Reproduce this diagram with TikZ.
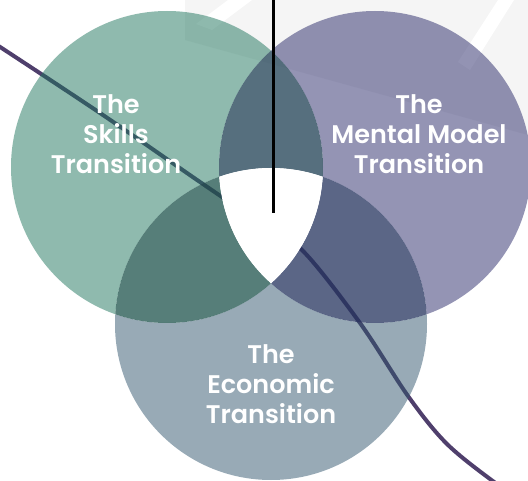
\documentclass[tikz,border=0pt]{standalone}
\usepackage{fontspec}
\setmainfont{Poppins}
\newfontfamily\popsb{Poppins SemiBold}
\definecolor{bggray}{RGB}{245,245,245}
\definecolor{fA}{RGB}{31,117,93}
\definecolor{fB}{RGB}{41,41,105}
\definecolor{fC}{RGB}{49,85,109}
\definecolor{fAB}{RGB}{30,63,83}
\definecolor{fAC}{RGB}{30,83,76}
\definecolor{fBC}{RGB}{36,51,94}
\definecolor{curvecol}{RGB}{79,63,108}
\tikzset{
  single/.style={fill=#1, opacity=0.5},
  double/.style={fill=#1, opacity=0.75},
  lbl/.style={text=white, font=\popsb\fontsize{25.5}{30}\selectfont, align=center, inner sep=0pt},
}
\newcommand\bigrect{(-20,-20) rectangle (560,520)}
\begin{document}
\begin{tikzpicture}[x=1pt,y=-1pt]
\useasboundingbox (0,0) rectangle (528,481);
% background decoration
\fill[bggray] (185,0) -- (528,0) -- (528,135) -- (185,40) -- cycle;
\fill[white] (228,0) -- (252,0) -- (212,30) -- (196,24) -- cycle;
\fill[white] (498,0) -- (514,0) -- (470,70) -- (458,62) -- cycle;
% centres
\coordinate (cA) at (167,167);
\coordinate (cB) at (375,167);
\coordinate (cC) at (271,324);
% curve under the circles
\coordinate (k0) at (-6,43);
\coordinate (k1) at (100,113);
\coordinate (k2) at (200,182);
\coordinate (k3) at (262,224);
\coordinate (k4) at (303,251);
\coordinate (k5) at (360,323);
\coordinate (k6) at (408,396);
\coordinate (k7) at (446,443);
\coordinate (k8) at (490,479);
\coordinate (k9) at (512,493);
\draw[curvecol, line width=4pt] plot[smooth, tension=0.55] coordinates {(k0) (k1) (k2) (k3) (k4) (k5) (k6) (k7) (k8) (k9)};
% A only
\begin{scope}[even odd rule]
  \clip \bigrect (cB) circle (156pt);
  \clip \bigrect (cC) circle (156pt);
  \fill[single=fA] (cA) circle (156pt);
\end{scope}
% B only
\begin{scope}[even odd rule]
  \clip \bigrect (cA) circle (156pt);
  \clip \bigrect (cC) circle (156pt);
  \fill[single=fB] (cB) circle (156pt);
\end{scope}
% C only
\begin{scope}[even odd rule]
  \clip \bigrect (cA) circle (156pt);
  \clip \bigrect (cB) circle (156pt);
  \fill[single=fC] (cC) circle (156pt);
\end{scope}
% A and B
\begin{scope}
  \clip (cA) circle (156pt);
  \clip (cB) circle (156pt);
  \begin{scope}[even odd rule]
    \clip \bigrect (cC) circle (156pt);
    \fill[double=fAB] \bigrect;
  \end{scope}
\end{scope}
% A and C
\begin{scope}
  \clip (cA) circle (156pt);
  \clip (cC) circle (156pt);
  \begin{scope}[even odd rule]
    \clip \bigrect (cB) circle (156pt);
    \fill[double=fAC] \bigrect;
  \end{scope}
\end{scope}
% B and C
\begin{scope}
  \clip (cB) circle (156pt);
  \clip (cC) circle (156pt);
  \begin{scope}[even odd rule]
    \clip \bigrect (cA) circle (156pt);
    \fill[double=fBC] \bigrect;
  \end{scope}
\end{scope}
% all three
\begin{scope}
  \clip (cA) circle (156pt);
  \clip (cB) circle (156pt);
  \fill[white] (cC) circle (156pt);
\end{scope}
% vertical line
\coordinate (vtop) at (273,-2);
\coordinate (vbot) at (273,213);
\draw[black, line width=3pt] (vtop) -- (vbot);
% labels
\node[lbl] (tA) at (116,134) {The\\Skills\\Transition};
\node[lbl] (tB) at (419,134) {The\\Mental Model\\Transition};
\node[lbl] (tC) at (271,384) {The\\Economic\\Transition};
\end{tikzpicture}
\end{document}
